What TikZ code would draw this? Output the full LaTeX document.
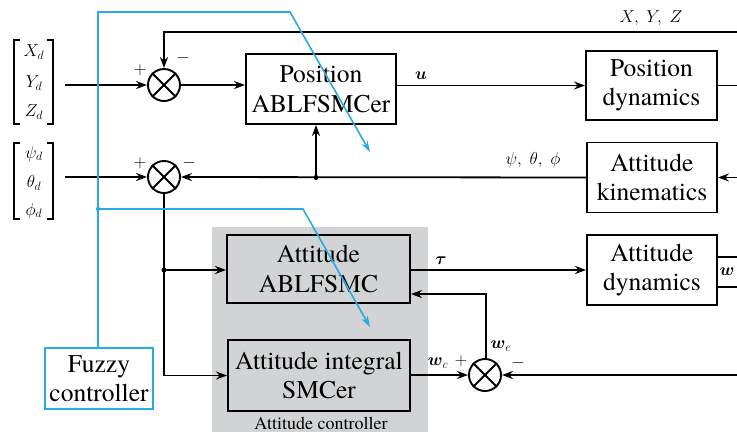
\documentclass[tikz,border=0pt]{standalone}
\usepackage{amsmath}
\usepackage{fontspec}
\setmainfont{TeX Gyre Termes}
\usetikzlibrary{arrows.meta}
\definecolor{fzblue}{RGB}{41,171,226}
\definecolor{ctrlgray}{RGB}{210,211,213}
\begin{document}
\begin{tikzpicture}[x=1pt,y=-1pt,
  blk/.style={draw, line width=1.9pt, inner sep=0pt, align=center, font=\fontsize{25.5}{29.5}\selectfont},
  sumj/.style={draw, circle, line width=1.9pt, minimum size=32pt, inner sep=0pt},
  ln/.style={line width=1.8pt},
  arr/.style={ln, -{Stealth[length=11pt,width=8pt]}},
  barr/.style={line width=1.6pt, fzblue, -{Stealth[length=11pt,width=7pt]}},
  lab/.style={font=\fontsize{18}{20}\selectfont, inner sep=1pt},
  dotc/.style={circle, fill, inner sep=0pt, minimum size=5pt}
]
\useasboundingbox (0,0) rectangle (737,432);
% gray controller region
\fill[ctrlgray] (212,227) rectangle (428,432);
\node[font=\fontsize{18}{20}\selectfont] (actl) at (321,423) {Attitude controller};

% blocks
\node[blk, minimum width=150pt, minimum height=70pt] (pc) at (321,89) {Position\\ABLFSMCer};
\node[blk, minimum width=131pt, minimum height=69pt] (pd) at (651.5,85.5) {Position\\dynamics};
\node[blk, minimum width=130pt, minimum height=70pt] (ak) at (652,177.5) {Attitude\\kinematics};
\node[blk, minimum width=130pt, minimum height=70pt] (ad) at (652,270) {Attitude\\dynamics};
\node[blk, minimum width=183pt, minimum height=68pt] (aa) at (318.5,269) {Attitude\\ABLFSMC};
\node[blk, minimum width=182pt, minimum height=71pt] (ai) at (319,375.5) {Attitude integral\\SMCer};
\node[blk, draw=fzblue, minimum width=108pt, minimum height=61pt] (fz) at (99,378.5) {Fuzzy\\controller};

% summing junctions
\node[sumj] (s1) at (164,85) {};
\node[sumj] (s2) at (164,177) {};
\node[sumj] (s3) at (485,375) {};
\foreach \s in {s1,s2,s3}{
  \draw[line width=1.9pt] (\s.north west) -- (\s.south east) (\s.north east) -- (\s.south west);
}

% input vectors
\node[lab] (xd) at (34,52) {$X_d$};
\node[lab] (yd) at (34,83) {$Y_d$};
\node[lab] (zd) at (34,112) {$Z_d$};
\draw[line width=1.1pt] (20,40) -- (14,40) -- (14,124) -- (20,124);
\draw[line width=1.1pt] (47,40) -- (53,40) -- (53,124) -- (47,124);
\node[lab] (psd) at (34,154) {$\psi_d$};
\node[lab] (thd) at (34,183) {$\theta_d$};
\node[lab] (phd) at (34,211) {$\phi_d$};
\draw[line width=1.1pt] (20,143) -- (14,143) -- (14,219) -- (20,219);
\draw[line width=1.1pt] (47,143) -- (53,143) -- (53,219) -- (47,219);

\coordinate (in1) at (65,85);
\coordinate (in2) at (65,177);
\coordinate (fbt) at (737,32);
\coordinate (pdo) at (737,85.5);
\coordinate (aki) at (737,177.5);
\coordinate (wfb) at (737,375);
\coordinate (d1) at (316,177.5);
\coordinate (d2) at (164,270);
\coordinate (we) at (486,294);

% position loop
\draw[arr] (in1) -- (s1.west);
\draw[arr] (fbt) -| (s1.north);
\draw[arr] (s1.east) -- (s1.east -| pc.west);
\draw[arr] (pc.east |- pd.west) -- (pd.west);
\draw[ln] (pd.east) -- (pdo);
\node[lab] (xyz) at (651,18) {$X,\;Y,\;Z$};
\node[lab] (ul) at (421,76) {$\boldsymbol{u}$};
\node[lab] (p1) at (140,70) {$+$};
\node[lab] (m1) at (183,58) {$-$};

% attitude loop
\draw[arr] (aki) -- (ak.east);
\draw[arr] (ak.west) -- (s2.east);
\draw[arr] (in2) -- (s2.west);
\node[dotc] at (d1) {};
\draw[arr] (d1) -- (d1 |- pc.south);
\node[lab] (ptp) at (533,160) {$\psi,\;\theta,\;\phi$};
\node[lab] (p2) at (140,163) {$+$};
\node[lab] (m2) at (189,163) {$-$};

\draw[arr] (s2.south) |- (ai.west);
\node[dotc] at (d2) {};
\draw[arr] (d2) -- (d2 -| aa.west);
\draw[arr] (aa.east |- ad.west) -- (ad.west);
\node[lab] (tl) at (441,261) {$\boldsymbol{\tau}$};
\draw[ln] (ad.east |- 0,257) -- (737,257);
\draw[ln] (ad.east |- 0,287) -- (737,287);
\node[lab] (wl) at (727,272) {$\boldsymbol{w}$};

\draw[arr] (ai.east |- s3.west) -- (s3.west);
\draw[arr] (wfb) -- (s3.east);
\draw[arr] (s3.north -| we) -- (we) -- (we -| aa.east);
\node[lab] (wcl) at (438,363) {$\boldsymbol{w}_c$};
\node[lab] (p3) at (461,361) {$+$};
\node[lab] (m3) at (518,363) {$-$};
\node[lab] (wel) at (501,346) {$\boldsymbol{w}_e$};

% fuzzy connections
\coordinate (b1) at (98,12);
\coordinate (b2) at (290,12);
\coordinate (b3) at (370,152);
\coordinate (c0) at (98,209);
\coordinate (c1) at (303,209);
\coordinate (c2) at (370,327);
\draw[barr] (fz.north -| b1) -- (b1) -- (b2) -- (b3);
\fill[fzblue] (c0) circle (2.2pt);
\draw[barr] (c0) -- (c1) -- (c2);
\end{tikzpicture}
\end{document}
